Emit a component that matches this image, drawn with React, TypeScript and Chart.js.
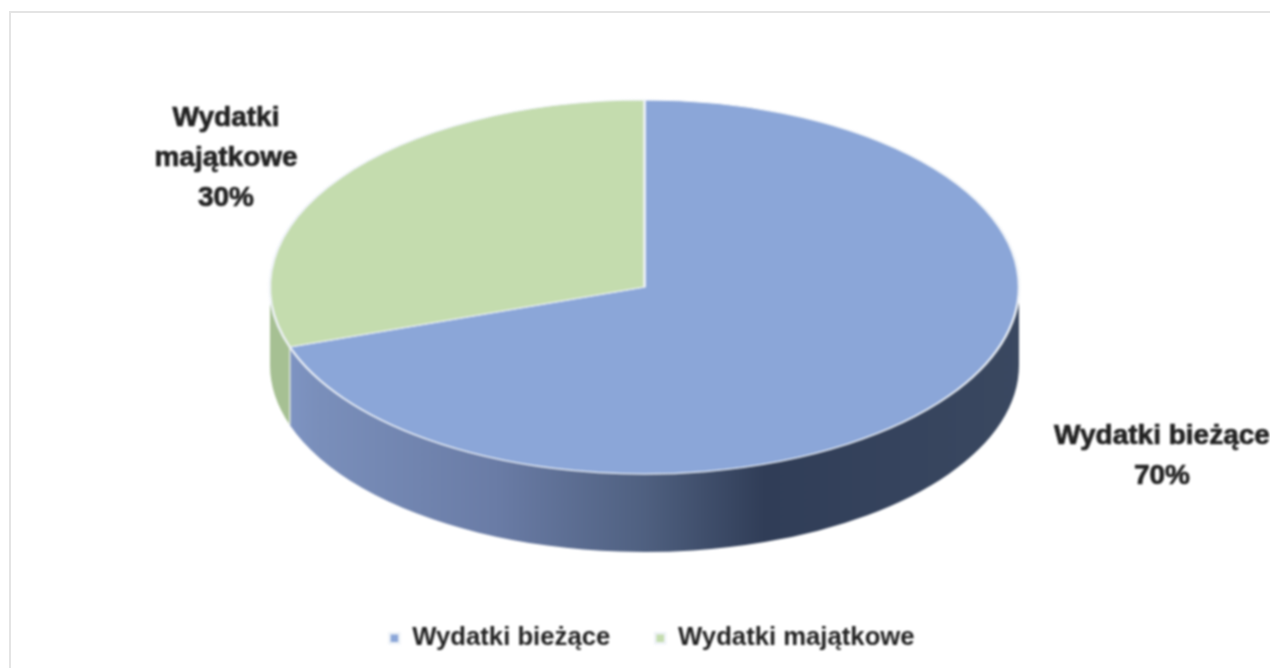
import React, { useEffect, useRef } from "react";
import { Chart, registerables } from "chart.js";

Chart.register(...registerables);

const categories = ["Wydatki bieżące", "Wydatki majątkowe"];
const values = [69.8, 30.2];
const sliceColors = ["#8ba6d8", "#c4dcae"];
const labelLines = [["Wydatki bieżące"], ["Wydatki", "majątkowe"]];

const CX = 644.5, CY = 287, RX = 374.5, RY = 187, DEPTH = 78;
const labelAnchors = [{ x: 1162, y: 436 }, { x: 226, y: 118 }];
const LABEL_FONT = "bold 28px 'Liberation Sans'";
const LINE_H = 40;

const pie3d = {
  id: "pie3d",
  beforeDatasetsDraw(chart: any) {
    const ctx = chart.ctx;
    const arcs = chart.getDatasetMeta(0).data;
    const wall = ctx.createLinearGradient(CX - RX, 0, CX + RX, 0);
    wall.addColorStop(0, "#8197c8");
    wall.addColorStop(0.06, "#7a8fbb");
    wall.addColorStop(0.3, "#6a7ca6");
    wall.addColorStop(0.5, "#4f6080");
    wall.addColorStop(0.66, "#303d57");
    wall.addColorStop(0.85, "#36445e");
    wall.addColorStop(1, "#3a4860");
    const fills = [wall, "#a6c093"];
    arcs.forEach((arc: any, i: number) => {
      const a = Math.max(arc.startAngle, 0);
      const b = Math.min(arc.endAngle, Math.PI);
      if (b <= a) return;
      ctx.save();
      ctx.beginPath();
      ctx.ellipse(CX, CY, RX, RY, 0, a, b);
      ctx.ellipse(CX, CY + DEPTH, RX, RY, 0, b, a, true);
      ctx.closePath();
      ctx.fillStyle = fills[i];
      ctx.fill();
      ctx.restore();
    });
    // seam between the two wall segments
    const seam = arcs[0].endAngle;
    const sx = CX + RX * Math.cos(seam);
    const sy = CY + RY * Math.sin(seam);
    ctx.save();
    ctx.strokeStyle = "#dfe6da";
    ctx.lineWidth = 1.5;
    ctx.beginPath();
    ctx.moveTo(sx, sy);
    ctx.lineTo(sx, sy + DEPTH);
    ctx.stroke();
    ctx.restore();

    const el = arcs[0];
    ctx.save();
    ctx.translate(CX, CY);
    ctx.scale(1, RY / RX);
    ctx.translate(-el.x, -el.y);
  },
  afterDatasetsDraw(chart: any) {
    const ctx = chart.ctx;
    ctx.restore();
    const total = values.reduce((s, v) => s + v, 0);
    ctx.save();
    ctx.font = LABEL_FONT;
    ctx.fillStyle = "#222222";
    ctx.strokeStyle = "#222222";
    ctx.lineWidth = 0.7;
    ctx.textAlign = "center";
    ctx.textBaseline = "middle";
    labelAnchors.forEach((p, i) => {
      const lines = [...labelLines[i], `${Math.round((values[i] / total) * 100)}%`];
      lines.forEach((t, k) => {
        ctx.fillText(t, p.x, p.y + k * LINE_H);
        ctx.strokeText(t, p.x, p.y + k * LINE_H);
      });
    });
    ctx.restore();
  },
};

export default function App() {
  const ref = useRef<HTMLCanvasElement>(null);
  useEffect(() => {
    const chart = new Chart(ref.current!, {
      type: "pie",
      data: {
        labels: categories,
        datasets: [{
          data: values,
          backgroundColor: sliceColors,
          borderColor: "#eef2f7",
          borderWidth: 2.5,
          clip: false,
        } as any],
      },
      options: {
        responsive: false,
        animation: false,
        radius: RX,
        layout: { padding: { left: 34, bottom: 7 } },
        plugins: {
          tooltip: { enabled: false },
          title: { display: false },
          legend: {
            display: true,
            position: "bottom",
            labels: {
              boxWidth: 10,
              boxHeight: 10,
              padding: 45,
              color: "#222222",
              font: { family: "'Liberation Sans'", size: 25.7, weight: "bold" },
            },
          },
        },
      } as any,
      plugins: [pie3d],
    });
    return () => chart.destroy();
  }, []);
  return (
    <div style={{ position: "absolute", left: 0, top: 0, width: 1270, height: 668, overflow: "hidden", background: "#fff" }}>
      <div style={{ position: "absolute", left: 9, top: 11, width: 1261, height: 657, borderLeft: "2px solid #e4e4e4", borderTop: "2px solid #e4e4e4" }} />
      <canvas ref={ref} width={1270} height={668} style={{ position: "absolute", left: 0, top: 0, filter: "blur(0.8px)" }} />
    </div>
  );
}
